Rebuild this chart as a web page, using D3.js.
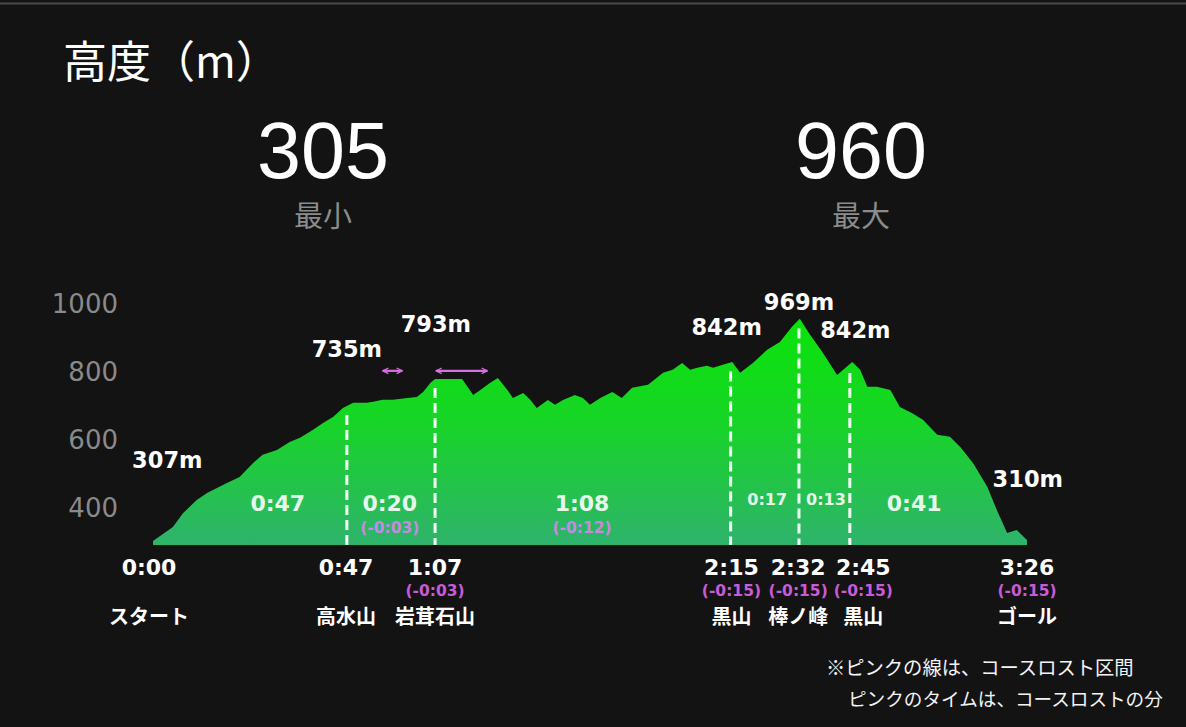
<!DOCTYPE html>
<html><head><meta charset="utf-8">
<script src="https://cdn.jsdelivr.net/npm/d3@7"></script>
<style>
html,body{margin:0;padding:0;background:#131313;}
svg{display:block;}
</style></head>
<body>
<svg id="c" width="1186" height="727"></svg>
<script>
// ---- data ----
const distKm = [0.00,0.25,0.38,0.55,0.68,0.93,1.09,1.26,1.38,1.56,1.72,1.85,2.01,2.14,2.27,2.39,2.52,2.69,2.77,2.89,3.02,3.20,3.32,3.40,3.49,3.55,3.89,4.03,4.12,4.24,4.34,4.46,4.53,4.66,4.75,4.83,4.97,5.06,5.16,5.31,5.41,5.50,5.63,5.78,5.90,6.03,6.23,6.42,6.54,6.66,6.76,6.85,6.97,7.05,7.17,7.29,7.39,7.55,7.73,7.89,8.04,8.14,8.27,8.43,8.61,8.80,8.90,8.99,9.11,9.28,9.40,9.55,9.69,9.87,10.03,10.16,10.32,10.50,10.62,10.75,10.87,11.00];
const elevM = [305,346,387,425,446,475,493,534,558,572,596,608,631,652,670,696,711,711,714,720,720,725,728,743,769,781,781,734,749,769,784,749,725,740,719,696,719,705,719,734,725,705,725,743,725,755,764,799,808,828,808,814,820,814,823,831,799,828,867,890,934,958,911,858,793,831,808,758,758,749,699,681,661,617,611,581,534,464,396,328,337,308];
const yTicks = [400,600,800,1000];

const wpDist  = [0, 2.44, 3.55, 7.27, 8.13, 8.77, 11.0];
const wpLabelDist = [-0.05, 2.43, 3.55, 7.28, 8.12, 8.94, 11.0];
const wpTimes = ["0:00","0:47","1:07","2:15","2:32","2:45","3:26"];
const wpLoss  = ["","","(-0:03)","(-0:15)","(-0:15)","(-0:15)","(-0:15)"];
const wpNames = ["スタート","高水山","岩茸石山","黒山","棒ノ峰","黒山","ゴール"];
const wpDashed = [false,true,true,true,true,true,false];

const segDist  = [1.57, 2.98, 5.40, 7.73, 8.47, 9.58];
const segTimes = ["0:47","0:20","1:08","0:17","0:13","0:41"];
const segLoss  = ["","(-0:03)","(-0:12)","","",""];
const segSmall = [false,false,false,true,true,false];

const elevLabelText = ["307m","735m","793m","842m","969m","842m","310m"];
const elevLabelDist = [0.18, 2.44, 3.56, 7.22, 8.13, 8.84, 11.01];
const elevLabelAlt  = [519, 846, 919, 911, 984, 902, 464];

const lossStart = [2.88, 3.55];
const lossEnd   = [3.15, 4.22];
const lossAlt   = 805;

const statValues = ["305","960"];
const statNames  = ["最小","最大"];
const title = "高度（m）";
const note = ["※ピンクの線は、コースロスト区間","ピンクのタイムは、コースロストの分"];

// ---- drawing ----
const svg = d3.select("#c");
const W = 1186;
const x = d3.scaleLinear().domain([0, 11]).range([153, 1027]);
const y = d3.scaleLinear().domain([293, 1000]).range([545, 304.5]);

// top rule
svg.append("line").attr("x1",0).attr("x2",W).attr("y1",3.5).attr("y2",3.5)
  .attr("stroke","#4a4a4a").attr("stroke-width",2);

// title
svg.append("text").attr("x",63).attr("y",78).text(title)
  .attr("fill","#ffffff").attr("font-family","'Noto Sans CJK JP'").attr("font-size",44);

// stats
const statX = [323, 861];
statValues.forEach((v,i)=>{
  svg.append("text").attr("x",statX[i]).attr("y",178).attr("text-anchor","middle")
    .attr("fill","#ffffff").attr("font-family","'Liberation Sans', Arial").attr("font-size",79).text(v);
  svg.append("text").attr("x",statX[i]).attr("y",227).attr("text-anchor","middle")
    .attr("fill","#8c8c8c").attr("font-family","'Noto Sans CJK JP'").attr("font-size",29).text(statNames[i]);
});

// gradient
const defs = svg.append("defs");
const grad = defs.append("linearGradient").attr("id","g").attr("gradientUnits","userSpaceOnUse")
  .attr("x1",0).attr("x2",0).attr("y1",y(960)).attr("y2",y(293));
grad.append("stop").attr("offset",0).attr("stop-color","#0ae30a");
grad.append("stop").attr("offset",0.45).attr("stop-color","#17d526");
grad.append("stop").attr("offset",1).attr("stop-color","#2fb36c");

const pts = distKm.map((d,i)=>({d, v: elevM[i]}));
const area = d3.area().x(p=>x(p.d)).y0(y(293)).y1(p=>y(p.v));
svg.append("path").datum(pts).attr("d",area).attr("fill","url(#g)");

// y axis
const yAxis = d3.axisLeft(y).tickValues(yTicks).tickFormat(d3.format("d")).tickSize(0).tickPadding(0);
const ga = svg.append("g").attr("transform","translate(118,0)").call(yAxis);
ga.select(".domain").remove();
ga.selectAll("text").attr("fill","#8a8a8a").attr("font-family","'DejaVu Sans'").attr("font-size",26);

// elevation interpolation along profile for dashed line tops
function elevAt(d){
  const i = d3.bisector(p=>p.d).left(pts, d);
  if (i<=0) return pts[0].v;
  if (i>=pts.length) return pts[pts.length-1].v;
  const a = pts[i-1], b = pts[i];
  return a.v + (b.v-a.v)*(d-a.d)/(b.d-a.d);
}

// dashed waypoint lines
wpDist.forEach((d,i)=>{
  if(!wpDashed[i]) return;
  svg.append("line").attr("x1",x(d)).attr("x2",x(d))
    .attr("y1",y(elevAt(d))+9).attr("y2",y(293))
    .attr("stroke","#f2fff4").attr("stroke-width",3).attr("stroke-dasharray","10,5");
});

// segment labels inside area
segTimes.forEach((t,i)=>{
  svg.append("text").attr("x",x(segDist[i])).attr("y",segSmall[i]?505:511)
    .attr("text-anchor","middle").attr("fill","#e6f8ea")
    .attr("font-family","'DejaVu Sans'").attr("font-weight","bold")
    .attr("font-size",segSmall[i]?16:22).text(t);
  if(segLoss[i]){
    svg.append("text").attr("x",x(segDist[i])).attr("y",533)
      .attr("text-anchor","middle").attr("fill","#c58ae4")
      .attr("font-family","'DejaVu Sans'").attr("font-weight","bold")
      .attr("font-size",15.5).text(segLoss[i]);
  }
});

// elevation labels
elevLabelText.forEach((t,i)=>{
  svg.append("text").attr("x",x(elevLabelDist[i])).attr("y",y(elevLabelAlt[i]))
    .attr("text-anchor","middle").attr("fill","#ffffff")
    .attr("font-family","'DejaVu Sans'").attr("font-weight","bold")
    .attr("font-size",22.5).text(t);
});

// course-loss arrows
defs.append("marker").attr("id","ah").attr("viewBox","0 0 10 10").attr("refX",9).attr("refY",5)
  .attr("markerWidth",3.2).attr("markerHeight",5).attr("orient","auto-start-reverse")
  .attr("markerUnits","strokeWidth")
  .append("path").attr("d","M1,1 L9,5 L1,9").attr("fill","none").attr("stroke","#d870e4").attr("stroke-width",1.8);
lossStart.forEach((s,i)=>{
  svg.append("line").attr("x1",x(s)+1).attr("x2",x(lossEnd[i])-1)
    .attr("y1",y(lossAlt)).attr("y2",y(lossAlt))
    .attr("stroke","#d870e4").attr("stroke-width",2.2)
    .attr("marker-start","url(#ah)").attr("marker-end","url(#ah)");
});

// bottom waypoint labels
wpTimes.forEach((t,i)=>{
  const cx = x(wpLabelDist[i]);
  svg.append("text").attr("x",cx).attr("y",575).attr("text-anchor","middle")
    .attr("fill","#ffffff").attr("font-family","'DejaVu Sans'").attr("font-weight","bold")
    .attr("font-size",22).text(t);
  if(wpLoss[i]){
    svg.append("text").attr("x",cx).attr("y",595.5).attr("text-anchor","middle")
      .attr("fill","#c95bd8").attr("font-family","'DejaVu Sans'").attr("font-weight","bold")
      .attr("font-size",15.5).text(wpLoss[i]);
  }
  svg.append("text").attr("x",cx).attr("y",624).attr("text-anchor","middle")
    .attr("fill","#ffffff").attr("font-family","'Noto Sans CJK JP'").attr("font-weight","bold")
    .attr("font-size",20).text(wpNames[i]);
});

// note
svg.append("text").attr("x",826).attr("y",675).attr("fill","#f4f4f4")
  .attr("font-family","'Noto Sans CJK JP'").attr("font-size",19.3).text(note[0]);
svg.append("text").attr("x",848).attr("y",706).attr("fill","#f4f4f4")
  .attr("font-family","'Noto Sans CJK JP'").attr("font-size",18.6).text(note[1]);
</script>
</body></html>
